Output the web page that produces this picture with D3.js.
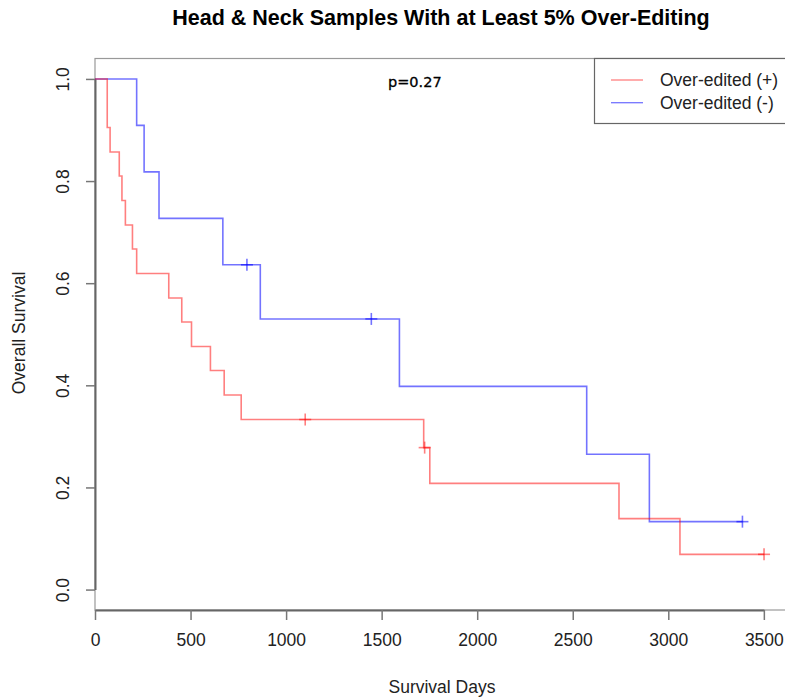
<!DOCTYPE html>
<html>
<head>
<meta charset="utf-8">
<script src="https://cdn.jsdelivr.net/npm/d3@7"></script>
<style>
  body { margin: 0; background: #fff; }
  svg { display: block; font-family: "Liberation Sans", Arial, sans-serif; }
</style>
</head>
<body>
<div id="chart"></div>
<script>
// Kaplan-Meier steps
const redTime = [64, 79, 127, 141, 159, 196, 218, 386, 454, 505, 604, 676, 765, 1720, 1752, 2742, 3061];
const redSurv = [0.905, 0.857, 0.810, 0.762, 0.714, 0.667, 0.619, 0.571, 0.524, 0.476, 0.429, 0.381, 0.333, 0.278, 0.208, 0.139, 0.069];
const redCensor = [1100, 1725, 3501];

const blueTime = [218, 257, 335, 669, 865, 1593, 2573, 2901];
const blueSurv = [0.909, 0.818, 0.727, 0.636, 0.530, 0.398, 0.265, 0.133];
const blueCensor = [795, 1446, 3388];

const xTicks = [0, 500, 1000, 1500, 2000, 2500, 3000, 3500];
const yTicks = [0, 0.2, 0.4, 0.6, 0.8, 1.0];
const legendLabels = ["Over-edited (+)", "Over-edited (-)"];

const width = 785, height = 700;
const redCol = "rgba(255,0,0,0.5)";
const blueCol = "rgba(0,0,255,0.55)";

let svg = d3.select("#chart").append("svg")
    .attr("width", width)
    .attr("height", height);

let x = d3.scaleLinear().domain([0, 3640]).range([95, 790.6]);
let y = d3.scaleLinear().domain([-0.04, 1.04]).range([610, 58.5]);

// survival at time t (for censor marks and step paths)
function survAt(times, surv, t) {
    let s = 1;
    for (let i = 0; i < times.length; i++) {
        if (times[i] <= t) s = surv[i];
    }
    return s;
}

function kmPoints(times, surv, censor) {
    let end = d3.max(censor.concat(times));
    let pts = [[0, 1]];
    times.forEach((t, i) => pts.push([t, surv[i]]));
    pts.push([end, survAt(times, surv, end)]);
    return pts;
}

// title
svg.append("text")
    .attr("x", 441)
    .attr("y", 25)
    .attr("text-anchor", "middle")
    .style("font-size", "21.5px")
    .style("font-weight", "bold")
    .style("fill", "#000")
    .text("Head & Neck Samples With at Least 5% Over-Editing");

// plot box
svg.append("rect")
    .attr("x", x(0))
    .attr("y", y(1.04))
    .attr("width", x(3640) - x(0))
    .attr("height", y(-0.04) - y(1.04))
    .style("fill", "none")
    .style("stroke", "#999")
    .style("stroke-width", 1.2);

// axes
let xAxis = d3.axisBottom(x.copy().domain([0, 3500]).range([x(0), x(3500)]))
    .tickValues(xTicks)
    .tickSize(10)
    .tickSizeOuter(0)
    .tickPadding(14)
    .tickFormat(d3.format("d"));

let gx = svg.append("g")
    .attr("transform", "translate(0," + y(-0.04) + ")")
    .call(xAxis);
gx.select(".domain").style("stroke", "#666").style("stroke-width", 2);
gx.selectAll(".tick line").style("stroke", "#777").style("stroke-width", 1.5);
gx.selectAll("text")
    .style("font-size", "17.5px")
    .style("fill", "#222")
    .style("font-family", "Liberation Sans, Arial, sans-serif");

let yAxis = d3.axisLeft(y.copy().domain([0, 1]).range([y(0), y(1)]))
    .tickValues(yTicks)
    .tickSize(9)
    .tickSizeOuter(0)
    .tickFormat(d3.format(".1f"));

let gy = svg.append("g")
    .attr("transform", "translate(" + x(0) + ",0)")
    .call(yAxis);
gy.select(".domain").style("stroke", "#666").style("stroke-width", 2);
gy.selectAll(".tick line").style("stroke", "#777").style("stroke-width", 1.5);
gy.selectAll("text")
    .attr("x", null)
    .attr("dy", null)
    .attr("transform", "translate(-26,0) rotate(-90)")
    .attr("text-anchor", "middle")
    .style("font-size", "17.5px")
    .style("fill", "#222")
    .style("font-family", "Liberation Sans, Arial, sans-serif");

// axis titles
svg.append("text")
    .attr("x", 442)
    .attr("y", 693)
    .attr("text-anchor", "middle")
    .style("font-size", "17.5px")
    .style("fill", "#222")
    .text("Survival Days");

svg.append("text")
    .attr("transform", "translate(25,333) rotate(-90)")
    .attr("text-anchor", "middle")
    .style("font-size", "17.5px")
    .style("fill", "#222")
    .text("Overall Survival");

// curves
let line = d3.line()
    .x(d => x(d[0]))
    .y(d => y(d[1]))
    .curve(d3.curveStepAfter);

let groups = [
    {time: blueTime, surv: blueSurv, censor: blueCensor, color: blueCol},
    {time: redTime, surv: redSurv, censor: redCensor, color: redCol}
];

groups.forEach(g => {
    svg.append("path")
        .datum(kmPoints(g.time, g.surv, g.censor))
        .attr("d", line)
        .style("fill", "none")
        .style("stroke", g.color)
        .style("stroke-width", 1.6);

    let marks = svg.append("g");
    g.censor.forEach(t => {
        let cx = x(t), cy = y(survAt(g.time, g.surv, t));
        marks.append("line")
            .attr("x1", cx - 6).attr("x2", cx + 6)
            .attr("y1", cy).attr("y2", cy)
            .style("stroke", g.color).style("stroke-width", 1.6);
        marks.append("line")
            .attr("x1", cx).attr("x2", cx)
            .attr("y1", cy - 6).attr("y2", cy + 6)
            .style("stroke", g.color).style("stroke-width", 1.6);
    });
});

// p-value
svg.append("text")
    .attr("x", 388)
    .attr("y", 87)
    .style("font-family", "DejaVu Sans, sans-serif")
    .style("font-size", "14.5px")
    .style("fill", "#000")
    .style("stroke", "#000")
    .style("stroke-width", 0.3)
    .text("p=0.27");

// legend
let legend = svg.append("g");
legend.append("rect")
    .attr("x", 594.5)
    .attr("y", y(1.04))
    .attr("width", 220)
    .attr("height", 123.5 - y(1.04))
    .style("fill", "#fff")
    .style("stroke", "#666")
    .style("stroke-width", 1.2);

[redCol, blueCol].forEach((c, i) => {
    let ly = 80 + i * 22.7;
    legend.append("line")
        .attr("x1", 611).attr("x2", 643)
        .attr("y1", ly).attr("y2", ly)
        .style("stroke", c)
        .style("stroke-width", 1.3);
    legend.append("text")
        .attr("x", 660)
        .attr("y", ly + 6)
        .style("font-size", "17.5px")
        .style("fill", "#222")
        .text(legendLabels[i]);
});
</script>
</body>
</html>
